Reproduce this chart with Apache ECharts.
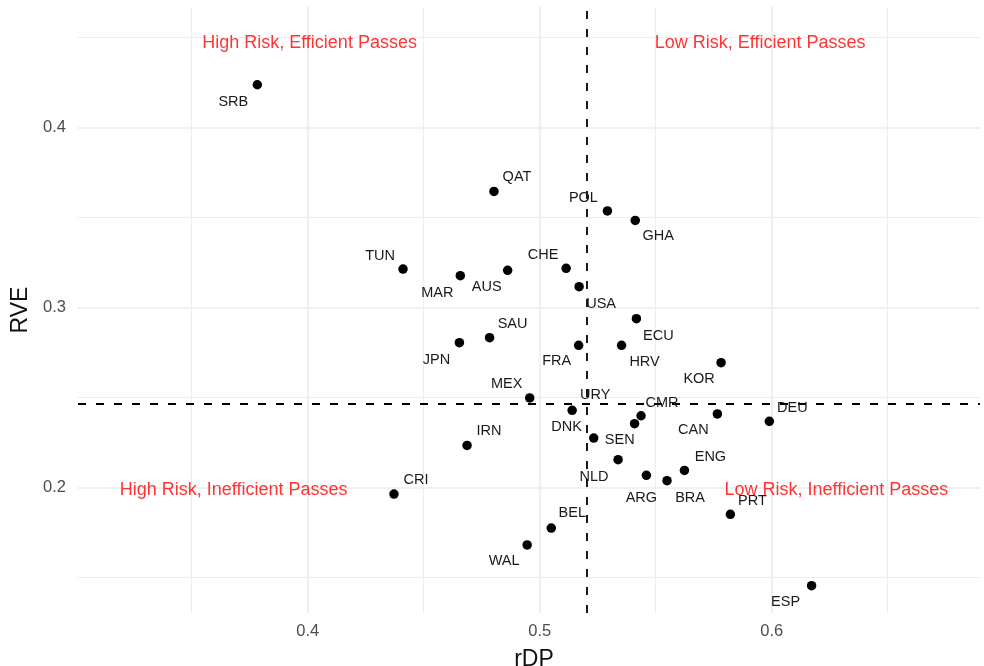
<!DOCTYPE html>
<html>
<head>
<meta charset="utf-8">
<script src="https://cdn.jsdelivr.net/npm/echarts@6/dist/echarts.min.js"></script>
<style>
  html, body { margin: 0; padding: 0; background: #ffffff; }
  #chart { width: 984px; height: 666px; }
</style>
</head>
<body>
<div id="chart"></div>
<script>
// ---- data ----
const countries = ['SRB','QAT','POL','GHA','CHE','USA','AUS','MAR','TUN','ECU','SAU','JPN','FRA','HRV','KOR','MEX','URY','CMR','DNK','CAN','DEU','SEN','IRN','NLD','ARG','BRA','ENG','CRI','PRT','BEL','WAL','ESP'];
const rDP = [0.3783,0.4803,0.5292,0.5412,0.5114,0.5170,0.4862,0.4658,0.4411,0.5417,0.4784,0.4654,0.5168,0.5353,0.5782,0.4957,0.5140,0.5437,0.5409,0.5766,0.5990,0.5233,0.4687,0.5338,0.5460,0.5549,0.5624,0.4372,0.5822,0.5050,0.4946,0.6172];
const rve = [0.4237,0.3644,0.3536,0.3483,0.3217,0.3115,0.3206,0.3176,0.3213,0.2937,0.2832,0.2804,0.2789,0.2789,0.2693,0.2497,0.2428,0.2398,0.2354,0.2408,0.2367,0.2274,0.2233,0.2154,0.2067,0.2037,0.2094,0.1963,0.1850,0.1774,0.1680,0.1454];

const xTicks = [0.4, 0.5, 0.6];
const yTicks = [0.2, 0.3, 0.4];
const xMinorTicks = [0.35, 0.45, 0.55, 0.65];
const yMinorTicks = [0.15, 0.25, 0.35, 0.45];

const refX = 0.5201;   // vertical dashed reference (rDP)
const refY = 0.2463;   // horizontal dashed reference (RVE)

const quadrantNames = ['High Risk, Efficient Passes','Low Risk, Efficient Passes','High Risk, Inefficient Passes','Low Risk, Inefficient Passes'];
const quadrantX = [0.4008, 0.5950, 0.3681, 0.6279];
const quadrantY = [0.4469, 0.4469, 0.1983, 0.1983];

// ---- layout (label nudges in px, like ggrepel placement) ----
const labelNudge = {
  SRB:[-24,17], QAT:[23,-14], POL:[-24,-13], GHA:[23,16], CHE:[-23,-13], USA:[22,17],
  AUS:[-21,17], MAR:[-23,17], TUN:[-23,-13], ECU:[22,17], SAU:[23,-14], JPN:[-23,17],
  FRA:[-22,16], HRV:[23,17], KOR:[-22,16], MEX:[-23,-14], URY:[23,-15], CMR:[21,-13],
  DNK:[-68,3], CAN:[-24,16], DEU:[23,-13], SEN:[26,2], IRN:[22,-14], NLD:[-24,17],
  ARG:[-5,23], BRA:[23,17], ENG:[26,-13], CRI:[22,-14], PRT:[22,-13], BEL:[21,-15],
  WAL:[-23,16], ESP:[-26,16]
};

const FONT = '"Liberation Sans", Arial, Helvetica, sans-serif';

const pointData = countries.map((c, i) => ({ name: c, value: [rDP[i], rve[i]] }));
const quadData = quadrantNames.map((n, i) => ({ name: n, value: [quadrantX[i], quadrantY[i]] }));

const gridLines = [];
xTicks.forEach(v => gridLines.push({ xAxis: v, lineStyle: { color: '#ebebeb', width: 1.7, type: 'solid' } }));
yTicks.forEach(v => gridLines.push({ yAxis: v, lineStyle: { color: '#ebebeb', width: 1.7, type: 'solid' } }));
xMinorTicks.forEach(v => gridLines.push({ xAxis: v, lineStyle: { color: '#ededed', width: 1, type: 'solid' } }));
yMinorTicks.forEach(v => gridLines.push({ yAxis: v, lineStyle: { color: '#ededed', width: 1, type: 'solid' } }));

const chart = echarts.init(document.getElementById('chart'), null, { renderer: 'canvas' });
chart.setOption({
  animation: false,
  backgroundColor: '#ffffff',
  textStyle: { fontFamily: FONT },
  grid: { left: 78, right: 4, top: 7, bottom: 53, containLabel: false, outerBoundsMode: 'none' },
  xAxis: {
    type: 'value', min: 0.301, max: 0.6898,
    name: 'rDP', nameLocation: 'middle', nameGap: 35,
    nameTextStyle: { fontSize: 23, color: '#111', fontFamily: FONT, padding: [0, 0, 0, 10] },
    axisLine: { show: false }, axisTick: { show: false }, splitLine: { show: false },
    axisLabel: { customValues: xTicks, fontSize: 16.5, color: '#4d4d4d', margin: 10, fontFamily: FONT,
      formatter: v => String(Math.round(v * 10) / 10) }
  },
  yAxis: {
    type: 'value', min: 0.1302, max: 0.4669,
    name: 'RVE', nameLocation: 'middle', nameGap: 44, nameRotate: 90,
    nameTextStyle: { fontSize: 23, color: '#111', fontFamily: FONT },
    axisLine: { show: false }, axisTick: { show: false }, splitLine: { show: false },
    axisLabel: { customValues: yTicks, fontSize: 16.5, color: '#4d4d4d', margin: 12, fontFamily: FONT,
      formatter: v => String(Math.round(v * 10) / 10) }
  },
  series: [
    {
      type: 'scatter', data: [], silent: true, z: 1,
      markLine: { silent: true, precision: 6, symbol: ['none', 'none'], label: { show: false }, animation: false, data: gridLines }
    },
    {
      type: 'scatter', data: [], silent: true, z: 3,
      markLine: {
        silent: true, precision: 6, symbol: ['none', 'none'], label: { show: false }, animation: false,
        lineStyle: { color: '#000', width: 1.8, type: [8, 10] },
        data: [{ xAxis: refX }, { yAxis: refY }]
      }
    },
    {
      type: 'scatter', data: pointData, z: 5,
      symbol: 'circle', symbolSize: 9.5,
      itemStyle: { color: '#000', opacity: 1 },
      label: {
        show: true, position: 'inside', formatter: p => p.name,
        color: '#1a1a1a', fontSize: 14.5, fontFamily: FONT
      },
      labelLayout: function (params) {
        const n = labelNudge[countries[params.dataIndex]] || [0, 0];
        return { dx: n[0], dy: n[1], hideOverlap: false };
      }
    },
    {
      type: 'scatter', data: quadData, z: 6, silent: true,
      symbol: 'circle', symbolSize: 1, itemStyle: { color: 'rgba(0,0,0,0)' },
      label: { show: true, position: 'inside', formatter: p => p.name, color: '#ff0000', fontSize: 18, fontFamily: FONT }
    }
  ]
});
</script>
</body>
</html>
